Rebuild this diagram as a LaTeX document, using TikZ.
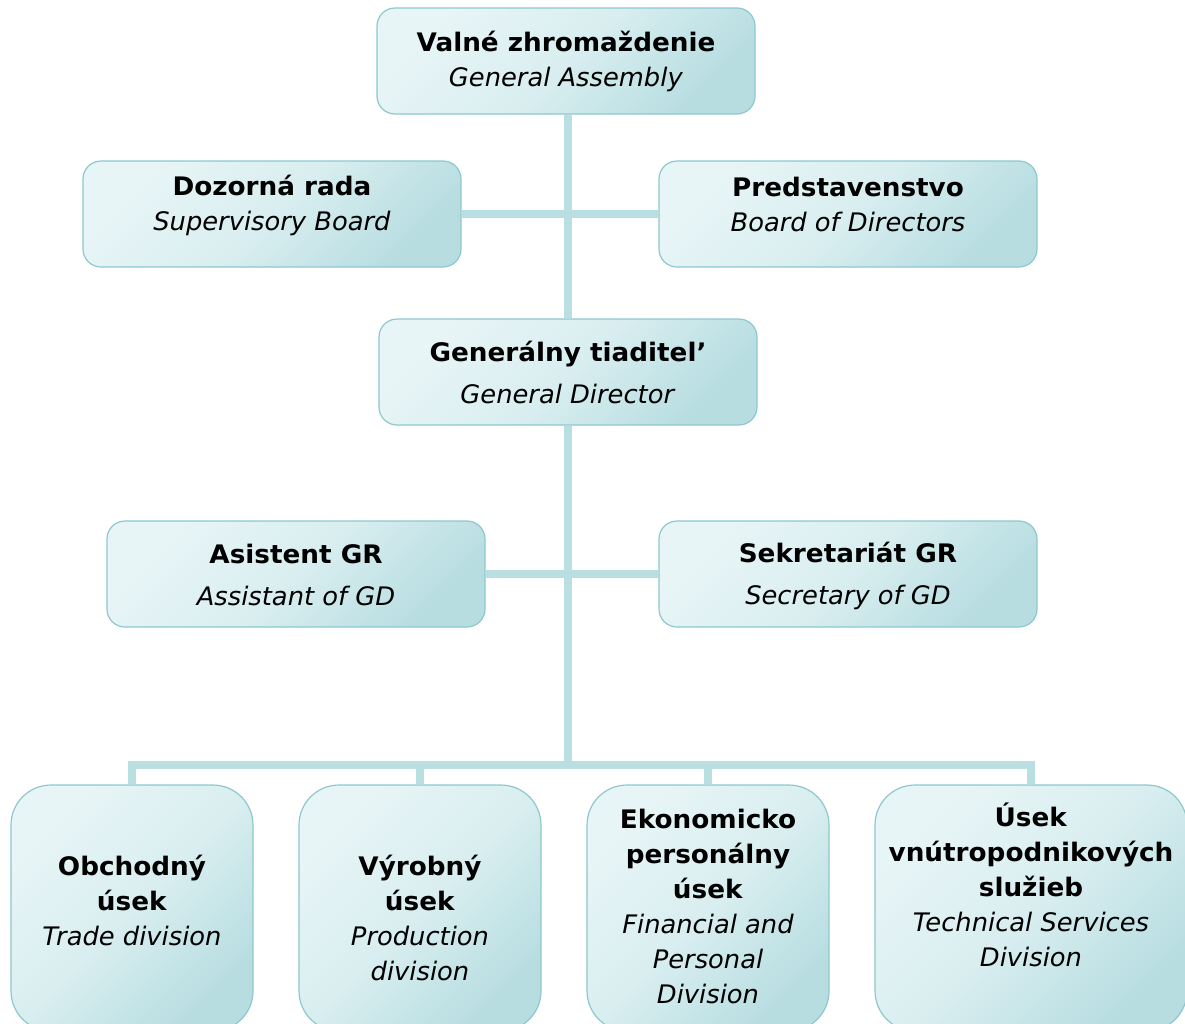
\documentclass[tikz,border=0pt]{standalone}
\usepackage{fontspec}
\setmainfont{DejaVu Sans}[
  BoldFont={DejaVu Sans Bold},
  BoldFeatures={FakeStretch=1.03},
  ItalicFont={DejaVu Sans Oblique},
  ItalicFeatures={FakeStretch=1.01},
  BoldItalicFont={DejaVu Sans Bold Oblique}]
\definecolor{lite}{HTML}{E8F5F6}
\definecolor{midc}{HTML}{D9EEF0}
\definecolor{dark}{HTML}{B7DDE1}
\definecolor{bord}{HTML}{8CC8CE}
\definecolor{linec}{HTML}{B9DFE2}
\pgfdeclarelayer{bg}
\pgfsetlayers{bg,main}
\begin{document}
\begin{tikzpicture}[x=1pt,y=-1pt,
  box/.style={draw=bord, line width=1.2pt, rounded corners=18pt,
    top color=lite, bottom color=dark, middle color=midc, shading angle=45,
    minimum width=378pt, minimum height=106pt, inner sep=0pt},
  big/.style={box, rounded corners=40pt, minimum width=242pt, minimum height=246pt},
  txt/.style={inner sep=0pt, align=center, font=\fontsize{25.5}{35}\selectfont},
  conn/.style={draw=linec, line width=8pt}]
\useasboundingbox (0,0) rectangle (1185,1023);

% boxes
\node[box] (GA) at (566,61) {};
\node[box] (DR) at (272,214) {};
\node[box] (PR) at (848,214) {};
\node[box] (GD) at (568,372) {};
\node[box] (AS) at (296,574) {};
\node[box] (SK) at (848,574) {};
\node[big] (B1) at (132,908) {};
\node[big] (B2) at (420,908) {};
\node[big] (B3) at (708,908) {};
\node[big, minimum width=312pt] (B4) at (1031,908) {};

% texts
\node[txt] (tGA) at (566,61) {\textbf{Valné zhromaždenie}\\\textit{General Assembly}};
\node[txt] (tDR) at (272,205) {\textbf{Dozorná rada}\\\textit{Supervisory Board}};
\node[txt] (tPR) at (848,204) {\textbf{Predstavenstvo}\\\textit{Board of Directors}};
\node[txt] (tGD) at (568,372) {\textbf{Generálny tiaditel’}\\[7pt]\textit{General Director}};
\node[txt] (tAS) at (296,575) {\textbf{Asistent GR}\\[7pt]\textit{Assistant of GD}};
\node[txt] (tSK) at (848,576) {\textbf{Sekretariát GR}\\[7pt]\textit{Secretary of GD}};
\node[txt] (tB1) at (132,918) {\textbf{Obchodný}\\\textbf{úsek}\\\textit{Trade division}\\\mbox{}};
\node[txt] (tB2) at (420,918) {\textbf{Výrobný}\\\textbf{úsek}\\\textit{Production}\\\textit{division}};
\node[txt] (tB3) at (708,906) {\textbf{Ekonomicko}\\\textbf{personálny}\\\textbf{úsek}\\\textit{Financial and}\\\textit{Personal}\\\textit{Division}};
\node[txt] (tB4) at (1031,902) {\textbf{Úsek}\\\textbf{vnútropodnikových}\\\textbf{služieb}\\\textit{Technical Services}\\\textit{Division}\\\mbox{}};

% connectors
\coordinate (bus) at (568,765);
\begin{pgfonlayer}{bg}
  \draw[conn] (GD.north |- GA.south) -- (GD.north);
  \draw[conn] (DR.east) -- (PR.west);
  \draw[conn] (AS.east) -- (SK.west);
  \draw[conn] (GD.south) -- (GD.south |- bus);
  \draw[conn] (B1.north) |- (B4.north |- bus) -- (B4.north);
  \draw[conn] (B2.north) -- (B2.north |- bus);
  \draw[conn] (B3.north) -- (B3.north |- bus);
\end{pgfonlayer}
\end{tikzpicture}
\end{document}
